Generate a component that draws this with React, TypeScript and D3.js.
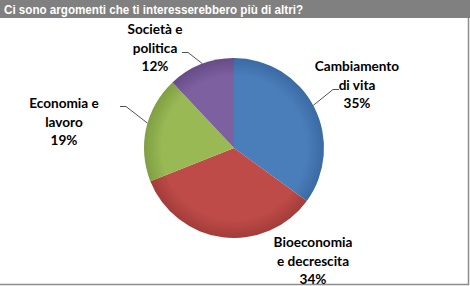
import React from "react";
import * as d3 from "d3";

const title = "Ci sono argomenti che ti interesserebbero più di altri?";
const categories = ["Cambiamento di vita", "Bioeconomia e decrescita", "Economia e lavoro", "Società e politica"];
const values = [35, 34, 19, 12];
const labelLines = [
  ["Cambiamento", "di vita", "35%"],
  ["Bioeconomia", "e decrescita", "34%"],
  ["Economia e", "lavoro", "19%"],
  ["Società e", "politica", "12%"],
];
const colors = ["#4a7ebb", "#be4b48", "#98b954", "#7d60a0"];
const darkColors = ["#3b6aa3", "#a33c39", "#7f9f42", "#664c87"];

const W = 470, H = 286;
const cx = 234, cy = 148, R = 90;

const labelPos: [number, number][] = [
  [357, 71],
  [313, 247],
  [64, 108],
  [155, 34],
];

export default function App() {
  const pie = d3.pie<number>().sort(null).value((d) => d);
  const arcs = pie(values);
  const arcGen = d3.arc<d3.PieArcDatum<number>>().innerRadius(0).outerRadius(R);
  const lineH = 18.5;

  const edge = (i: number, f: number): [number, number] => {
    const a = arcs[i];
    const ang = a.startAngle + (a.endAngle - a.startAngle) * f;
    return [cx + R * Math.sin(ang), cy - R * Math.cos(ang)];
  };
  const line = d3.line();
  const leaderPaths: string[] = [
    line([edge(0, 0.49), [333, 89.5], [339, 89.5]]) as string,
    line([[120, 106.5], [126, 106.5], edge(2, 0.55)]) as string,
    line([[182, 52.5], [188, 52.5], edge(3, 0.525)]) as string,
  ];

  return (
    <svg width={W} height={H} style={{ position: "absolute", left: 0, top: 0, background: "#fff" }}>
      <defs>
        {colors.map((c, i) => (
          <radialGradient key={i} id={`g${i}`} gradientUnits="userSpaceOnUse" cx={0} cy={0} r={R}>
            <stop offset="0%" stopColor={c} />
            <stop offset="80%" stopColor={c} />
            <stop offset="100%" stopColor={darkColors[i]} />
          </radialGradient>
        ))}
      </defs>
      <rect x={0} y={0} width={W} height={H} fill="#fff" />
      <rect x={0} y={0} width={W} height={18} fill="#808080" />
      <text x={4} y={13.5} fill="#fff" fontFamily="Liberation Sans, Arial, sans-serif" fontWeight="bold" fontSize={12.5} textLength={299} lengthAdjust="spacingAndGlyphs">
        {title}
      </text>
      <line x1={468.5} y1={18} x2={468.5} y2={285} stroke="#8c8c8c" strokeWidth={1.5} />
      <line x1={0} y1={284.5} x2={469} y2={284.5} stroke="#8c8c8c" strokeWidth={1.5} />
      <g transform={`translate(${cx},${cy})`}>
        {arcs.map((a, i) => (
          <path key={categories[i]} d={arcGen(a) as string} fill={`url(#g${i})`} />
        ))}
      </g>
      {leaderPaths.map((d, i) => (
        <path key={i} d={d} fill="none" stroke="#404040" strokeWidth={0.9} />
      ))}
      {labelLines.map((lines, i) => (
        <text key={i} textAnchor="middle" fontFamily="Lato, 'Open Sans', sans-serif" fontWeight="bold" fontSize={13.6} fill="#000">
          {lines.map((t, j) => (
            <tspan key={j} x={labelPos[i][0]} y={labelPos[i][1] + j * lineH}>
              {t}
            </tspan>
          ))}
        </text>
      ))}
    </svg>
  );
}
